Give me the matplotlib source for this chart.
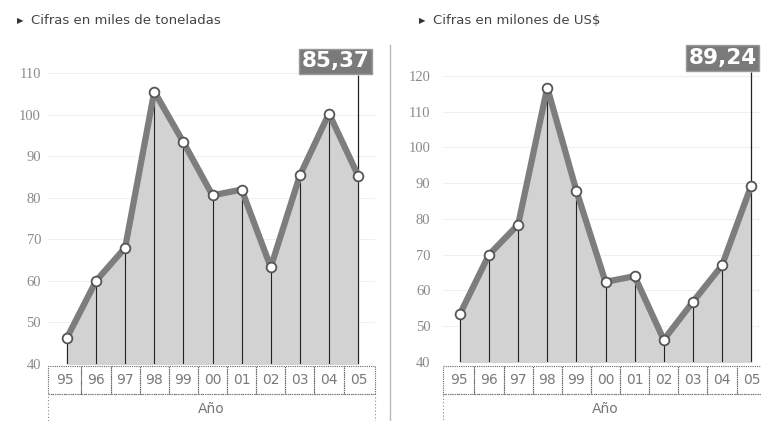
import numpy as np
import matplotlib.pyplot as plt
from matplotlib.patches import Rectangle
from matplotlib.transforms import blended_transform_factory

years = ['95', '96', '97', '98', '99', '00', '01', '02', '03', '04', '05']
toneladas = [46.3, 60.0, 68.0, 105.6, 93.4, 80.6, 82.0, 63.3, 85.4, 100.3, 85.37]
dolares = [53.4, 70.0, 78.4, 116.7, 87.9, 62.4, 64.0, 46.2, 56.8, 67.0, 89.24]
titles = ['Cifras en miles de toneladas', 'Cifras en milones de US$']
last_labels = ['85,37', '89,24']

W, H = 761, 421
fig = plt.figure(figsize=(W / 100, H / 100), dpi=100)
fig.patch.set_facecolor('white')


def px_axes(x0, x1, ytop, ybot):
    # axes rectangle from pixel coordinates (y measured from the top)
    return fig.add_axes([x0 / W, (H - ybot) / H, (x1 - x0) / W, (ybot - ytop) / H])


def draw_panel(ax, values, yticks, ylim, xlim, label, tag_y, tag_dx, tick_pad):
    x = np.arange(len(values))
    ax.set_xlim(*xlim)
    ax.set_ylim(*ylim)
    for s in ax.spines.values():
        s.set_visible(False)
    ax.set_xticks([])
    ax.set_yticks(yticks)
    ax.set_yticklabels([str(t) for t in yticks], family='Liberation Serif',
                       fontsize=10.5, color='#8a8a8a')
    ax.tick_params(axis='y', length=0, pad=tick_pad)
    for t in yticks[1:]:
        ax.axhline(t, color='#f0f0f0', lw=0.8, zorder=0)

    ax.fill_between(x, values, ylim[0], color='#d2d2d2', zorder=1)
    ax.vlines(x, ylim[0], values, color='#222222', lw=0.8, zorder=2)
    ax.plot(x, values, color='#7d7d7d', lw=4.5, solid_capstyle='round', zorder=3)
    ax.plot(x, values, 'o', ms=7, mfc='white', mec='#555555', mew=1.3, zorder=4)

    # value tag on the last year
    ax.vlines(x[-1], values[-1], tag_y, color='#222222', lw=0.9,
              zorder=2, clip_on=False)
    ax.annotate(label, xy=(x[-1], tag_y), xytext=(tag_dx, 3),
                textcoords='offset points', ha='right', va='bottom',
                fontsize=15.5, fontweight='bold', color='white', family='DejaVu Sans',
                bbox=dict(boxstyle='square,pad=0.12', fc='#7a7a7a', ec='#9a9a9a'),
                annotation_clip=False, zorder=5)

    # year table below the plot
    tr = blended_transform_factory(ax.transData, fig.transFigure)
    row1_top, row1_bot, row2_bot = (H - 366) / H, (H - 394) / H, 0.0
    left, right = xlim
    edges = [left] + [i + 0.5 for i in range(len(years) - 1)] + [right]
    for i, yr in enumerate(years):
        ax.add_patch(Rectangle((edges[i], row1_bot), edges[i + 1] - edges[i],
                               row1_top - row1_bot, transform=tr, fill=False,
                               ec='#666666', lw=0.8, ls=(0, (1, 1)), clip_on=False))
        ax.text((edges[i] + edges[i + 1]) / 2, (row1_top + row1_bot) / 2, yr,
                transform=tr, ha='center', va='center', fontsize=10,
                color='#7a7a7a', family='DejaVu Sans', clip_on=False)
    ax.add_patch(Rectangle((left, row2_bot), right - left,
                           row1_bot - row2_bot, transform=tr, fill=False,
                           ec='#888888', lw=0.8, ls=(0, (1, 2)), clip_on=False))
    ax.text((left + right) / 2, (H - 409) / H, 'Año', transform=tr,
            ha='center', va='center', fontsize=10, color='#777777',
            family='DejaVu Sans', clip_on=False)


ax1 = px_axes(48, 375, 40, 364)
draw_panel(ax1, toneladas, list(range(40, 111, 10)), (40, 118), (-0.65, 10.58),
           last_labels[0], 109.5, 8, 5)

ax2 = px_axes(443, 768, 40, 362)
draw_panel(ax2, dolares, list(range(40, 121, 10)), (40, 130), (-0.58, 10.58),
           last_labels[1], 121.0, 4, 9)

# panel captions
for xpx, title in [(17, titles[0]), (419, titles[1])]:
    fig.text(xpx / W, (H - 21) / H, '\u25B6', fontsize=6, color='#333333',
             va='center', family='DejaVu Sans')
    fig.text((xpx + 14) / W, (H - 21) / H, title, fontsize=9.5, color='#444444',
             va='center', family='Liberation Sans Narrow')

# separator between the two panels
fig.add_artist(plt.Line2D([390 / W, 390 / W], [0, (H - 45) / H],
                          transform=fig.transFigure, color='#bbbbbb', lw=1))

fig.savefig('out.png', dpi=100, facecolor='white')
